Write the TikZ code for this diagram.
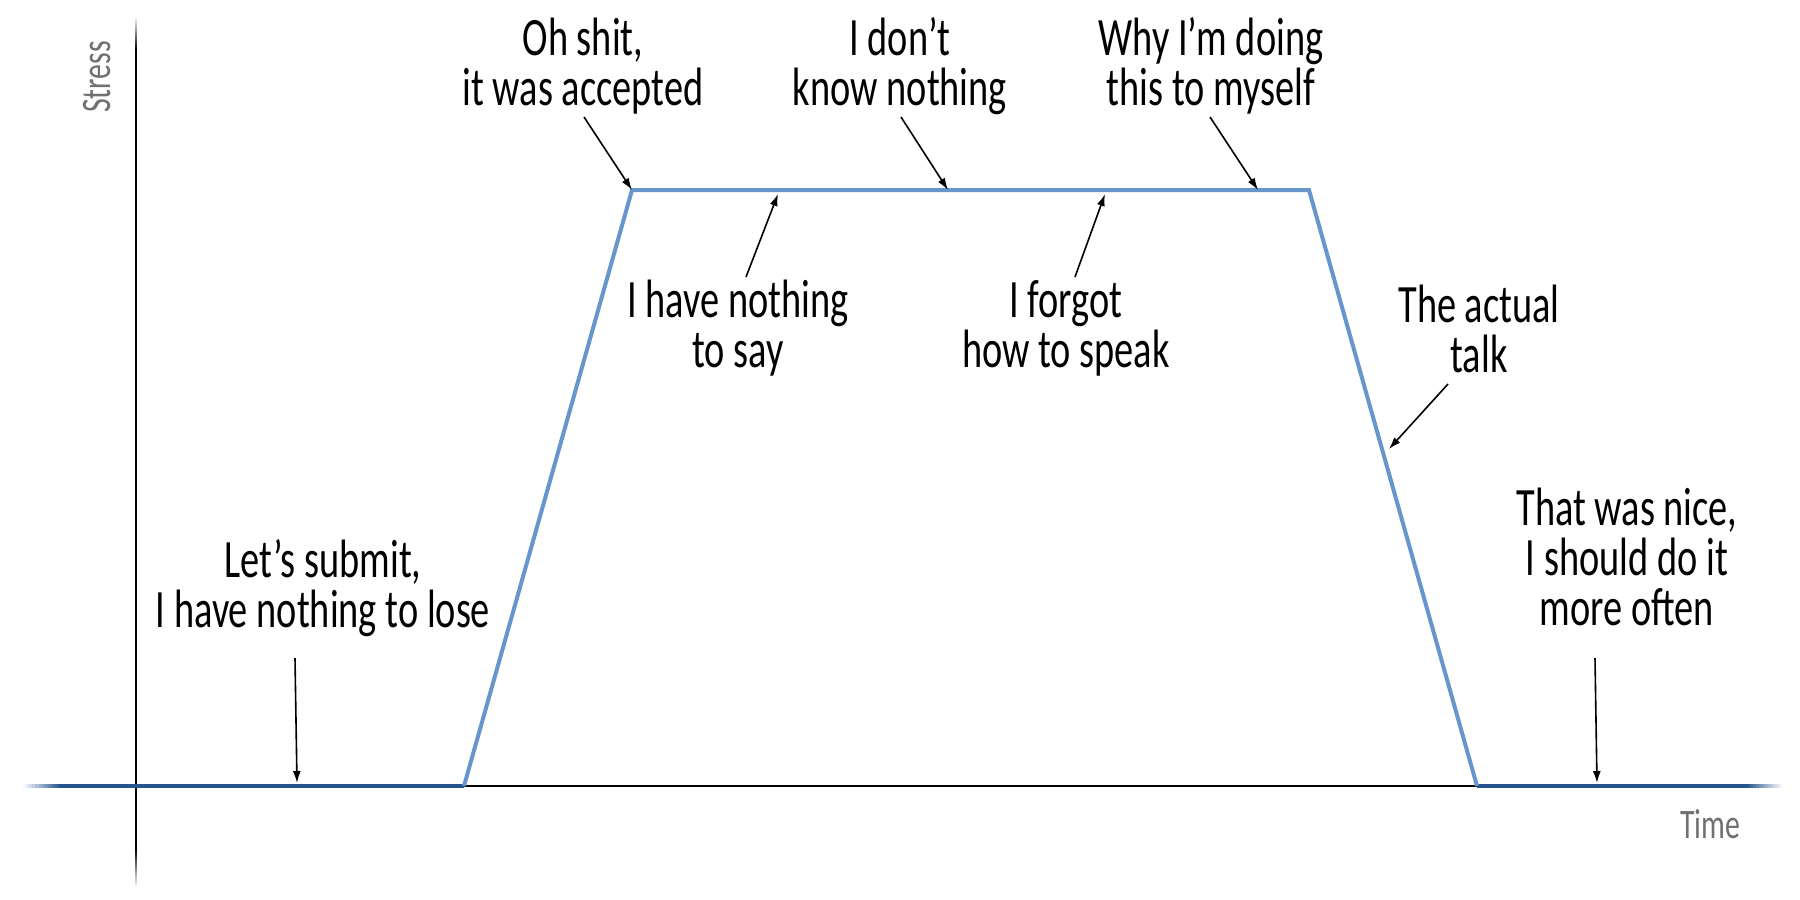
\documentclass[tikz,border=0pt]{standalone}
\usepackage{fontspec}
\setmainfont{Carlito}[FakeStretch=0.71]
\usetikzlibrary{arrows.meta}
\definecolor{lineblue}{RGB}{102,150,204}
\definecolor{baseblue}{RGB}{38,84,140}
\definecolor{labelgray}{RGB}{112,112,112}
\tikzset{
  note/.style={font=\fontsize{54}{50}\selectfont, align=center, inner sep=0pt, anchor=base},
  axislabel/.style={font=\fontsize{42}{42}\selectfont, text=labelgray, inner sep=0pt},
  pointer/.style={line width=1.6pt, -{Latex[length=12pt,width=8pt]}},
  curve/.style={line width=4pt, lineblue, line join=miter},
  basecurve/.style={line width=4pt, baseblue},
  axisline/.style={line width=2.5pt, black},
}
\begin{document}
\begin{tikzpicture}[x=1pt,y=-1pt]
\useasboundingbox[fill=white] (0,0) rectangle (1800,900);

% axes
\coordinate (ytop) at (136,50);
\coordinate (ybot) at (136,850);
\coordinate (xl) at (60,786);
\coordinate (xr) at (1747,786);
% fading ends of the y axis
\foreach \i [evaluate=\i as \c using {100*(\i+0.5)/11}] in {0,...,10}
  \draw[line width=2.5pt, black!\c] (136,17+3*\i) -- (136,20.4+3*\i);
\foreach \i [evaluate=\i as \c using {100-100*(\i+0.5)/12}] in {0,...,11}
  \draw[line width=2.5pt, black!\c] (136,849.6+3.1*\i) -- (136,853.1+3.1*\i);
\draw[axisline] (ytop) -- (ybot);
\draw[axisline] (xl) -- (xr);

% stress curve
\coordinate (p0) at (464,786);
\coordinate (p1) at (632,190);
\coordinate (p2) at (1309,190);
\coordinate (p3) at (1477,786);
% fading ends of the base line
\foreach \i [evaluate=\i as \c using {100*(\i+0.5)/12}] in {0,...,11}
  \draw[line width=4pt, baseblue!\c] (23+3.1*\i,786) -- (26.5+3.1*\i,786);
\foreach \i [evaluate=\i as \c using {100-100*(\i+0.5)/12}] in {0,...,11}
  \draw[line width=4pt, baseblue!\c] (1746.6+3*\i,786) -- (1750+3*\i,786);
\draw[basecurve] (xl) -- (p0);
\draw[basecurve] (p3) -- (xr);
\draw[curve] (p0) -- (p1) -- (p2) -- (p3);

% axis labels
\node[axislabel, rotate=90] (stress) at (97,77) {Stress};
\node[axislabel, anchor=base] (time) at (1710,838) {Time};

% notes (anchored at the baseline of their last line)
\node[note] (n1) at (583,105) {Oh shit,\\it was accepted};
\node[note] (n2) at (900,105) {I don’t\\know nothing};
\node[note] (n3) at (1211,105) {Why I’m doing\\this to myself};
\node[note] (n4) at (738,367) {I have nothing\\to say};
\node[note] (n5) at (1066,367) {I forgot\\how to speak};
\node[note] (n6) at (1479,372) {The actual\\talk};
\node[note] (n7) at (323,627) {Let’s submit,\\I have nothing to lose};
\node[note] (n8) at (1627,625) {That was nice,\\I should do it\\more often};

% pointers
\coordinate (a1s) at (584,117); \coordinate (a1e) at (632,190);
\coordinate (a2s) at (901,117); \coordinate (a2e) at (948,190);
\coordinate (a3s) at (1210,117); \coordinate (a3e) at (1258,190);
\coordinate (a4s) at (746,277); \coordinate (a4e) at (778,194);
\coordinate (a5s) at (1075,277); \coordinate (a5e) at (1105,194);
\coordinate (a6s) at (1448,384); \coordinate (a6e) at (1389,449);
\coordinate (a7s) at (295,658); \coordinate (a7e) at (297,783);
\coordinate (a8s) at (1595,658); \coordinate (a8e) at (1597,783);
\draw[pointer] (a1s) -- (a1e);
\draw[pointer] (a2s) -- (a2e);
\draw[pointer] (a3s) -- (a3e);
\draw[pointer] (a4s) -- (a4e);
\draw[pointer] (a5s) -- (a5e);
\draw[pointer] (a6s) -- (a6e);
\draw[pointer] (a7s) -- (a7e);
\draw[pointer] (a8s) -- (a8e);
\end{tikzpicture}
\end{document}
